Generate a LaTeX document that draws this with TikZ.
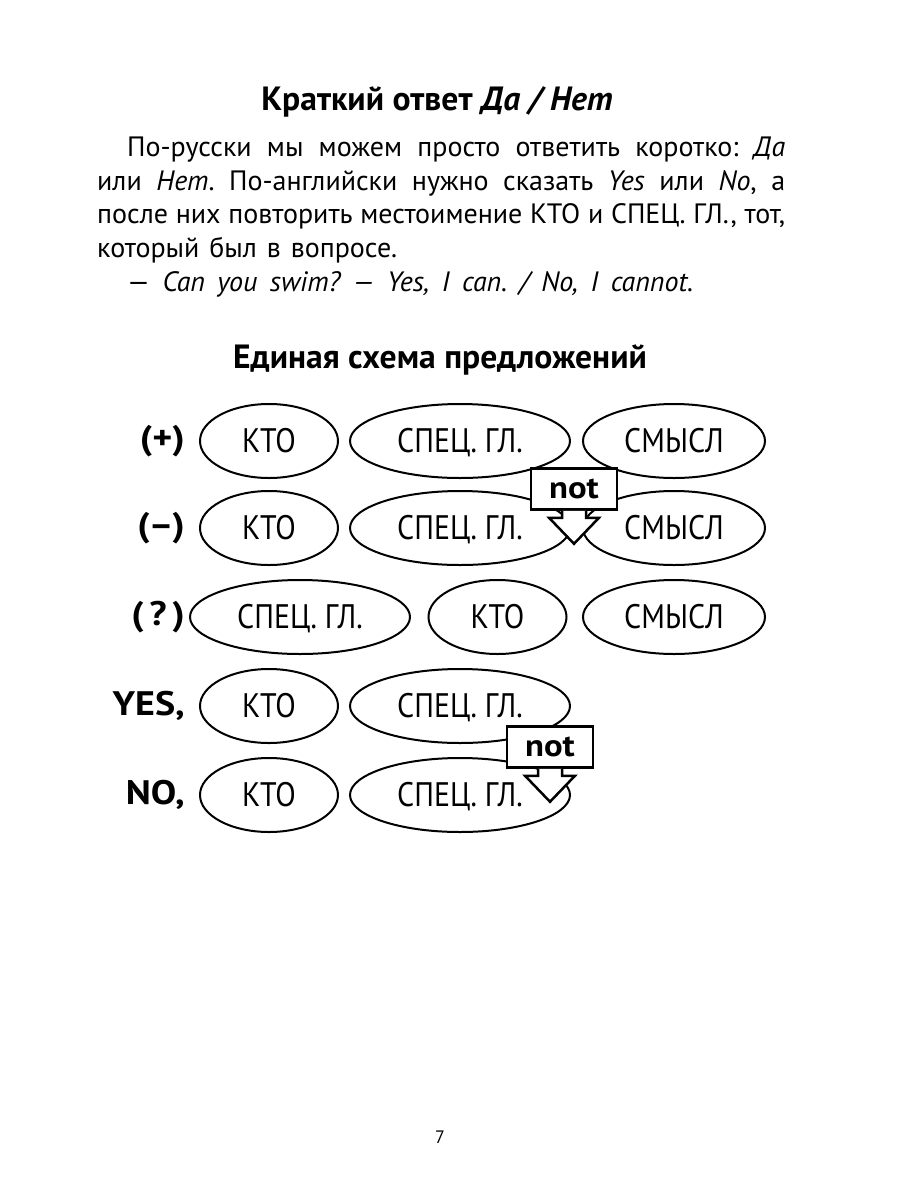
\documentclass[tikz,border=0pt]{standalone}
\usepackage{fontspec}
\setmainfont{PT Sans}
\newfontfamily\ovalfamily[FakeStretch=0.88]{PT Sans}
\newfontfamily\widefamily[FakeStretch=1.12]{PT Sans}
\usetikzlibrary{shapes.geometric}
\tikzset{
  oval/.style={ellipse, draw, line width=2pt, inner sep=0pt, minimum height=74pt,
    font=\ovalfamily\fontsize{34}{34}\selectfont, text height=23.8pt, text depth=0pt},
  ktooval/.style={oval, minimum width=138pt},
  specoval/.style={oval, minimum width=220pt},
  smyoval/.style={oval, minimum width=182pt},
  rowlabel/.style={anchor=east, inner sep=0pt, font=\widefamily\bfseries\fontsize{34}{34}\selectfont},
  notbox/.style={draw, fill=white, line width=2.5pt, minimum width=86pt, minimum height=41pt,
    inner sep=0pt, font=\widefamily\bfseries\fontsize{31}{31}\selectfont},
  notarrow/.style={draw, fill=white, line width=2.5pt, line join=miter},
  paraline/.style={anchor=base west, inner sep=0pt, font=\frenchspacing\fontsize{28}{32}\selectfont},
  heading/.style={anchor=base, inner sep=0pt, font=\bfseries\fontsize{33.6}{34}\selectfont}
}
\begin{document}
\begin{tikzpicture}[x=1pt, y=-1pt]
\path[use as bounding box, fill=white] (0,0) rectangle (900,1200);

% headings and paragraph
\node[heading] (t1) at (437,110) {Краткий ответ \textit{Да / Нет}};
\node[paraline] (p1) at (127,156) {\makebox[658pt][s]{По-русски мы можем просто ответить коротко: \textit{Да}}};
\node[paraline] (p2) at (97,190) {\makebox[688pt][s]{или \textit{Нет}. По-английски нужно сказать \textit{Yes} или \textit{No}, а}};
\node[paraline] (p3) at (97,223) {\makebox[688pt][s]{после них повторить местоимение КТО и СПЕЦ. ГЛ., тот,}};
\node[paraline] (p4) at (97,257) {\makebox[300pt][s]{который был в вопросе.}};
\node[paraline] (p5) at (127,291) {\makebox[566pt][s]{— \textit{Can you swim? — Yes, I can. / No, I cannot.}}};
\node[heading] (t2) at (440,368) {Единая схема предложений};

% row 1
\node[rowlabel] (l1) at (185,441) {(+)};
\node[ktooval] (k1) at (269,441) {КТО};
\node[specoval] (s1) at (460,441) {СПЕЦ. ГЛ.};
\node[smyoval] (m1) at (674,441) {СМЫСЛ};
% row 2
\node[rowlabel] (l2) at (185,528) {(–)};
\node[ktooval] (k2) at (269,528) {КТО};
\node[specoval] (s2) at (460,528) {СПЕЦ. ГЛ.};
\node[smyoval] (m2) at (674,528) {СМЫСЛ};
% row 3
\node[rowlabel] (l3) at (185,617) {(\,?\,)};
\node[specoval] (s3) at (300,617) {СПЕЦ. ГЛ.};
\node[ktooval] (k3) at (497.5,617) {КТО};
\node[smyoval] (m3) at (674,617) {СМЫСЛ};
% row 4
\node[rowlabel] (l4) at (185,706) {YES,};
\node[ktooval] (k4) at (269,706) {КТО};
\node[specoval] (s4) at (460,706) {СПЕЦ. ГЛ.};
% row 5
\node[rowlabel] (l5) at (185,795) {NO,};
\node[ktooval] (k5) at (269,795) {КТО};
\node[specoval] (s5) at (460,795) {СПЕЦ. ГЛ.};

% not callouts
\node[notbox] (n1) at (574,489) {not};
\path[notarrow] ([xshift=-12pt]n1.south) -- ++(0,7) -- ++(-13,0) -- ++(25,26) -- ++(25,-26) -- ++(-13,0) -- ++(0,-7);
\node[notbox] (n2) at (550,747) {not};
\path[notarrow] ([xshift=-12pt]n2.south) -- ++(0,7) -- ++(-13,0) -- ++(25,26) -- ++(25,-26) -- ++(-13,0) -- ++(0,-7);

% page number
\node[inner sep=0pt, font=\fontsize{18}{18}\selectfont, anchor=base] (pg) at (440,1143) {7};
\end{tikzpicture}
\end{document}
